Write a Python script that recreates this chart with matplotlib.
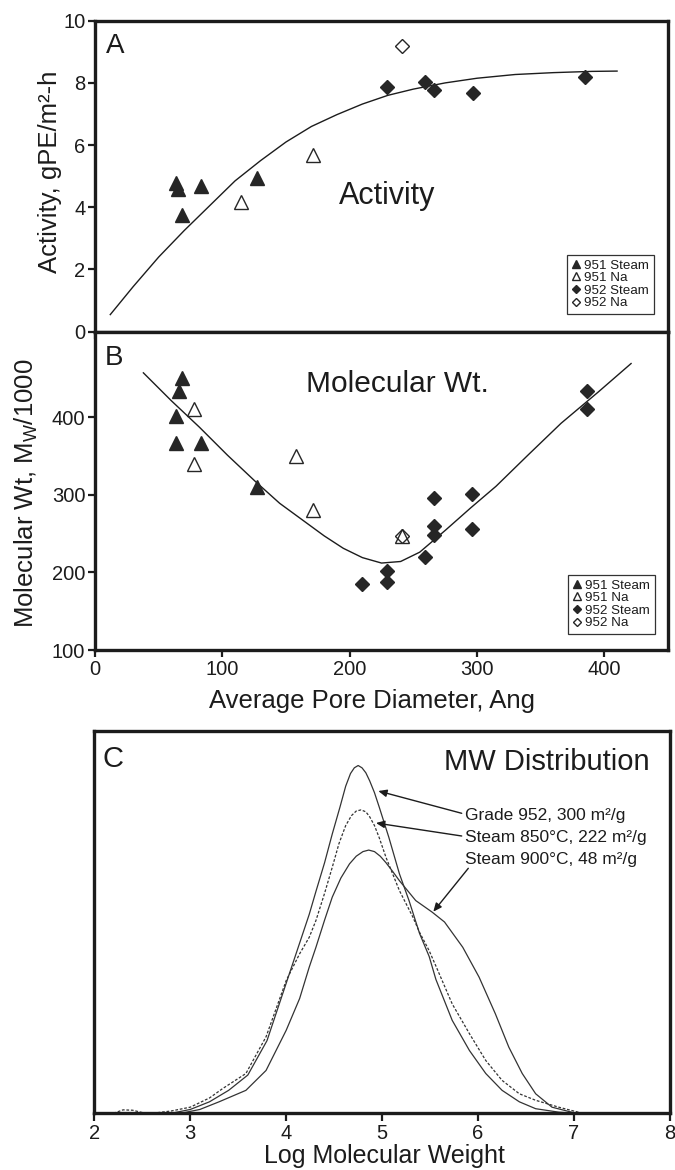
import matplotlib
matplotlib.use("Agg")
import matplotlib.pyplot as plt

plt.rcParams['font.family'] = ['Liberation Sans', 'DejaVu Sans']
plt.rcParams['mathtext.fontset'] = 'custom'
plt.rcParams['mathtext.rm'] = 'Liberation Sans'
plt.rcParams['mathtext.it'] = 'Liberation Sans:italic'

# ---------------- Panel A data: activity vs pore diameter ----------------
a951_steam_x = [64, 65, 68, 83, 127]
a951_steam_y = [4.78, 4.6, 3.74, 4.68, 4.95]
a951_na_x = [115, 171]
a951_na_y = [4.17, 5.67]
a952_steam_x = [229, 259, 266, 297, 385]
a952_steam_y = [7.86, 8.02, 7.78, 7.67, 8.18]
a952_na_x = [241]
a952_na_y = [9.2]
a_fit_x = [12, 30, 50, 70, 90, 110, 130, 150, 170, 190, 210, 230, 250, 275, 300, 330, 360, 390, 410]
a_fit_y = [0.55, 1.45, 2.4, 3.25, 4.05, 4.85, 5.5, 6.1, 6.6, 6.98, 7.32, 7.6, 7.8, 8.0, 8.15, 8.27, 8.33, 8.37, 8.38]

# ---------------- Panel B data: molecular weight vs pore diameter ----------------
b951_steam_x = [68, 66, 64, 64, 83, 127]
b951_steam_y = [451, 433, 402, 367, 367, 310]
b951_na_x = [78, 78, 158, 171, 241]
b951_na_y = [410, 340, 350, 280, 247]
b952_steam_x = [386, 386, 296, 296, 266, 266, 266, 259, 229, 229, 210]
b952_steam_y = [434, 411, 301, 256, 296, 260, 248, 220, 202, 188, 185]
b952_na_x = [241]
b952_na_y = [247]
b_fit_x = [38, 60, 82, 104, 126, 145, 160, 180, 195, 210, 225, 240, 255, 275, 295, 315, 340, 366, 395, 421]
b_fit_y = [457, 421, 387, 351, 317, 289, 271, 247, 231, 219, 212, 214, 226, 254, 283, 311, 351, 392, 432, 469]

# ---------------- Panel C data: MW distributions ----------------
g952_x = [2.8, 3.0, 3.2, 3.4, 3.6, 3.8, 4.0, 4.14, 4.24, 4.31, 4.40, 4.48, 4.56, 4.62, 4.67, 4.71,
          4.75, 4.79, 4.83, 4.87, 4.92, 4.97, 5.07, 5.18, 5.28, 5.39, 5.49, 5.56, 5.73, 5.91, 6.08,
          6.25, 6.43, 6.6, 6.84, 7.0]
g952_y = [0.0, 0.01, 0.03, 0.06, 0.10, 0.19, 0.34, 0.445, 0.52, 0.58, 0.655, 0.73, 0.80, 0.855, 0.888, 0.903,
          0.909, 0.903, 0.89, 0.869, 0.838, 0.80, 0.721, 0.626, 0.556, 0.47, 0.41, 0.35, 0.243, 0.164, 0.104,
          0.06, 0.03, 0.012, 0.003, 0.0]
s850_x = [2.2, 2.3, 2.4, 2.5, 2.6, 2.8, 3.0, 3.2, 3.34, 3.58, 3.79, 4.0, 4.14, 4.24, 4.31, 4.40, 4.48,
          4.55, 4.62, 4.68, 4.73, 4.78, 4.83, 4.87, 4.92, 4.97, 5.04, 5.18, 5.32, 5.39, 5.49, 5.56,
          5.73, 5.91, 6.08, 6.25, 6.43, 6.6, 6.84, 7.09]
s850_y = [0.0, 0.009, 0.008, 0.002, 0.0, 0.006, 0.016, 0.04, 0.065, 0.104, 0.2, 0.347, 0.417, 0.46, 0.504,
          0.575, 0.643, 0.705, 0.752, 0.778, 0.79, 0.793, 0.788, 0.775, 0.752, 0.72, 0.669, 0.582, 0.513,
          0.473, 0.425, 0.385, 0.286, 0.208, 0.138, 0.086, 0.051, 0.034, 0.016, 0.0]
s900_x = [2.9, 3.1, 3.3, 3.58, 3.79, 4.0, 4.14, 4.24, 4.31, 4.40, 4.48, 4.57, 4.66, 4.73, 4.80, 4.86,
          4.92, 4.98, 5.04, 5.11, 5.18, 5.35, 5.52, 5.65, 5.84, 6.01, 6.18, 6.32, 6.46, 6.6, 6.77, 7.02]
s900_y = [0.0, 0.01, 0.03, 0.06, 0.112, 0.217, 0.30, 0.382, 0.434, 0.505, 0.565, 0.615, 0.652, 0.672,
          0.684, 0.688, 0.684, 0.672, 0.655, 0.632, 0.608, 0.556, 0.526, 0.50, 0.434, 0.356, 0.26,
          0.173, 0.104, 0.051, 0.016, 0.0]

legend_labels = ['951 Steam', '951 Na', '952 Steam', '952 Na']
a_yticks = [0, 2, 4, 6, 8, 10]
b_yticks = [100, 200, 300, 400]
ab_xticks = [0, 100, 200, 300, 400]
c_xticks = [2, 3, 4, 5, 6, 7, 8]
annot_texts = ['Grade 952, 300 m²/g', 'Steam 850°C, 222 m²/g', 'Steam 900°C, 48 m²/g']

W, H = 675, 1170
fig = plt.figure(figsize=(W / 100, H / 100), dpi=100)


def fx(px):
    return px / W


def fy(py):
    return 1 - py / H


def axes_px(l, t, r, b):
    return fig.add_axes([fx(l), fy(b), fx(r) - fx(l), fy(t) - fy(b)])


ink = '#1c1c1c'
axA = axes_px(95, 20.7, 668, 331.7)
axB = axes_px(95, 331.7, 668, 650)
axC = axes_px(94.3, 730.7, 670, 1113.3)

for ax in (axA, axB, axC):
    for s in ax.spines.values():
        s.set_linewidth(2.4)
        s.set_color(ink)
    ax.tick_params(direction='out', length=5, width=1.6, colors=ink, labelsize=14.5, pad=2)


def draw_points(ax, s1x, s1y, s2x, s2y, s3x, s3y, s4x, s4y):
    ax.plot(s1x, s1y, ls='none', marker='^', ms=9.5, mfc='#262626', mec='#262626', label=legend_labels[0], zorder=3)
    ax.plot(s2x, s2y, ls='none', marker='^', ms=9.5, mfc='none', mec='#262626', mew=1.0, label=legend_labels[1], zorder=4)
    ax.plot(s3x, s3y, ls='none', marker='D', ms=7.5, mfc='#262626', mec='#262626', label=legend_labels[2], zorder=3)
    ax.plot(s4x, s4y, ls='none', marker='D', ms=7.0, mfc='white', mec='#262626', mew=1.0, label=legend_labels[3], zorder=2)


def add_legend(ax, right_px, bottom_px):
    leg = ax.legend(loc='lower right', bbox_to_anchor=(fx(right_px), fy(bottom_px)),
                    bbox_transform=fig.transFigure, fontsize=9.6, frameon=True, fancybox=False,
                    edgecolor='#333333', framealpha=1, borderpad=0.35, labelspacing=0.02,
                    handlelength=0.6, handletextpad=0.35, markerscale=0.55, borderaxespad=0)
    leg.get_frame().set_linewidth(0.9)
    for t in leg.get_texts():
        t.set_color(ink)


# Panel A
draw_points(axA, a951_steam_x, a951_steam_y, a951_na_x, a951_na_y,
            a952_steam_x, a952_steam_y, a952_na_x, a952_na_y)
axA.plot(a_fit_x, a_fit_y, color=ink, lw=1.0, zorder=2)
axA.set_xlim(0, 450)
axA.set_ylim(0, 10)
axA.set_yticks(a_yticks)
axA.set_xticks(ab_xticks)
axA.set_xticklabels([])
add_legend(axA, 654, 314)

# Panel B
draw_points(axB, b951_steam_x, b951_steam_y, b951_na_x, b951_na_y,
            b952_steam_x, b952_steam_y, b952_na_x, b952_na_y)
axB.plot(b_fit_x, b_fit_y, color=ink, lw=1.0, zorder=2)
axB.set_xlim(0, 450)
axB.set_ylim(100, 510)
axB.set_yticks(b_yticks)
axB.set_xticks(ab_xticks)
add_legend(axB, 655, 634)

# Panel C
axC.plot(g952_x, g952_y, color='#333333', lw=0.9)
axC.plot(s850_x, s850_y, color='#333333', lw=0.9, ls=(0, (2.2, 1.4)))
axC.plot(s900_x, s900_y, color='#333333', lw=0.9)
axC.set_xlim(2, 8)
axC.set_ylim(0, 1.0)
axC.set_xticks(c_xticks)
axC.set_yticks([])
axC.tick_params(axis='x', length=6)

# Texts
fig.text(fx(50), fy(172), 'Activity, gPE/m²-h', rotation=90, ha='center', va='center', fontsize=18.5, color=ink)
fig.text(fx(26), fy(493), r'Molecular Wt, M$_\mathregular{W}$/1000', rotation=90, ha='center', va='center',
         fontsize=18.5, color=ink)
fig.text(fx(372), fy(708), 'Average Pore Diameter, Ang', ha='center', va='baseline', fontsize=18.5, color=ink)
fig.text(fx(384), fy(1163), 'Log Molecular Weight', ha='center', va='baseline', fontsize=18, color=ink)

fig.text(fx(106), fy(53), 'A', ha='left', va='baseline', fontsize=20, color=ink)
fig.text(fx(105), fy(365), 'B', ha='left', va='baseline', fontsize=20, color=ink)
fig.text(fx(103), fy(767), 'C', ha='left', va='baseline', fontsize=21, color=ink)

fig.text(fx(387.5), fy(204), 'Activity', ha='center', va='baseline', fontsize=22, color=ink)
fig.text(fx(397.5), fy(391.7), 'Molecular Wt.', ha='center', va='baseline', fontsize=21.5, color=ink)
fig.text(fx(650), fy(770), 'MW Distribution', ha='right', va='baseline', fontsize=21, color=ink)

text_baselines = [820, 842.3, 864.3]
for txt, yb in zip(annot_texts, text_baselines):
    fig.text(fx(465), fy(yb), txt, ha='left', va='baseline', fontsize=12.5, color=ink)

arrow_from = [(461.7, 813.3), (461.7, 836.0), (468.3, 868.3)]
arrow_to = [(378.3, 791.0), (376.0, 823.0), (433.3, 911.7)]
for (x0, y0), (x1, y1) in zip(arrow_from, arrow_to):
    fig.add_artist(matplotlib.patches.FancyArrowPatch(
        (fx(x0), fy(y0)), (fx(x1), fy(y1)), transform=fig.transFigure,
        arrowstyle='-|>,head_length=5,head_width=2.2', color=ink, lw=1.0,
        shrinkA=0, shrinkB=0, mutation_scale=1))

fig.savefig('out.png', dpi=100, facecolor='white')
